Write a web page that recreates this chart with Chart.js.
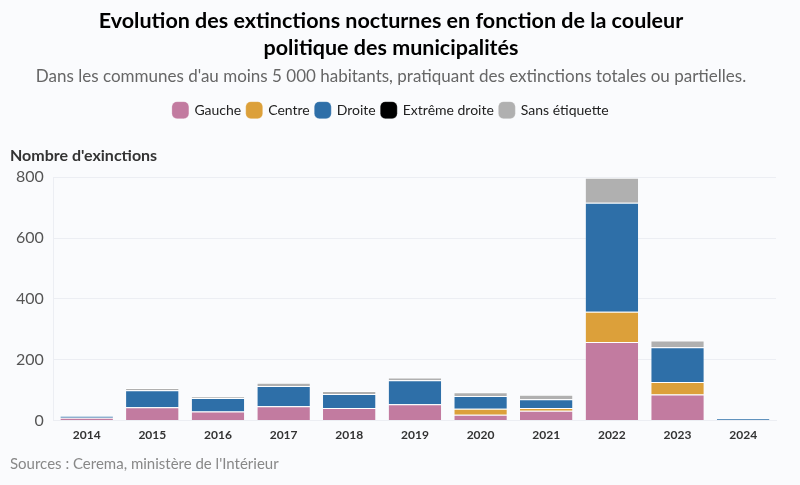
<!DOCTYPE html>
<html lang="fr">
<head>
<meta charset="UTF-8">
<title>Extinctions nocturnes</title>
<style>
  html, body { margin: 0; padding: 0; background: #fafbfd; }
  .wrap { width: 800px; height: 485px; position: relative; }
</style>
</head>
<body>
<div class="wrap"><canvas id="chart"></canvas></div>
<script src="https://cdn.jsdelivr.net/npm/chart.js@4.4.1/dist/chart.umd.js"></script>
<script>
const years = ['2014', '2015', '2016', '2017', '2018', '2019', '2020', '2021', '2022', '2023', '2024'];
const gauche = [9, 44, 30, 47, 41, 54, 19, 32, 258, 86, 0];
const centre = [0, 0, 0, 0, 0, 0, 20, 9, 100, 41, 0];
const droite = [7, 56, 44, 67, 46, 79, 42, 29, 358, 114, 8];
const extremeDroite = [0, 0, 0, 0, 0, 0, 0, 0, 0, 0, 0];
const sansEtiquette = [0, 7, 6, 10, 10, 9, 12, 15, 82, 22, 0];
const yTicks = [0, 200, 400, 600, 800];

const FONT = 'Lato, "Open Sans", sans-serif';

// add room under the legend and draw the axis label + source
const extras = {
  id: 'extras',
  beforeInit(chart) {
    const fit = chart.legend.fit;
    chart.legend.fit = function () {
      fit.bind(chart.legend)();
      this.height += 50;
    };
  },
  afterDraw(chart) {
    const ctx = chart.ctx;
    ctx.save();
    ctx.textAlign = 'left';
    ctx.textBaseline = 'alphabetic';
    ctx.fillStyle = '#333';
    ctx.font = 'bold 16px ' + FONT;
    ctx.fillText("Nombre d'exinctions", 10, 161);
    ctx.fillStyle = '#888';
    ctx.font = '15px ' + FONT;
    ctx.fillText("Sources : Cerema, ministère de l'Intérieur", 10, 469);
    ctx.restore();
  }
};

function ds(label, data, color) {
  return {
    label: label,
    data: data,
    backgroundColor: color,
    borderColor: '#ffffff',
    borderWidth: { top: 1, bottom: 0, left: 0, right: 0 },
    borderSkipped: false,
    barPercentage: 0.8,
    categoryPercentage: 1
  };
}

new Chart(document.getElementById('chart'), {
  type: 'bar',
  data: {
    labels: years,
    datasets: [
      ds('Gauche', gauche, '#c27ba0'),
      ds('Centre', centre, '#dca03a'),
      ds('Droite', droite, '#2e6fa8'),
      ds('Extrême droite', extremeDroite, '#000000'),
      ds('Sans étiquette', sansEtiquette, '#b0b0b0')
    ]
  },
  options: {
    responsive: true,
    maintainAspectRatio: false,
    animation: false,
    layout: { padding: { left: 6, right: 24, bottom: 36, top: 6 } },
    plugins: {
      title: {
        display: true,
        text: ['Evolution des extinctions nocturnes en fonction de la couleur', 'politique des municipalités'],
        color: '#000',
        font: { family: FONT, size: 21.5, weight: 'bold', lineHeight: 1.25 },
        padding: { top: 2, bottom: 4 }
      },
      subtitle: {
        display: true,
        text: "Dans les communes d'au moins 5 000 habitants, pratiquant des extinctions totales ou partielles.",
        color: '#666',
        font: { family: FONT, size: 17 },
        padding: { top: 1, bottom: 10 }
      },
      legend: {
        position: 'top',
        labels: {
          usePointStyle: true,
          pointStyle: 'rectRounded',
          boxWidth: 14,
          boxHeight: 14,
          padding: 6,
          color: '#222',
          font: { family: FONT, size: 14 }
        }
      },
      tooltip: { enabled: false }
    },
    scales: {
      x: {
        stacked: true,
        grid: { display: false, drawTicks: false },
        border: { color: '#eceef3' },
        ticks: { color: '#333', font: { family: FONT, size: 12, weight: 'bold' }, padding: 7 }
      },
      y: {
        stacked: true,
        min: 0,
        max: 800,
        afterBuildTicks(axis) { axis.ticks = yTicks.map(v => ({ value: v })); },
        grid: { color: '#eceef3', drawTicks: false },
        border: { display: true, color: '#eceef3' },
        ticks: { color: '#555', font: { family: FONT, size: 16 }, padding: 10 }
      }
    }
  },
  plugins: [extras]
});
</script>
</body>
</html>
